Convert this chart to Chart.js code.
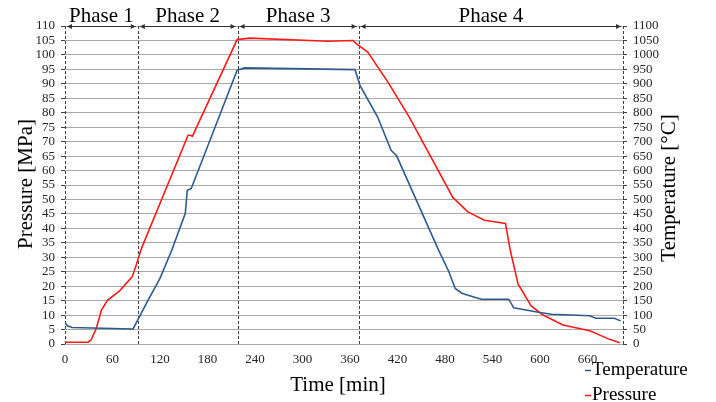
<!DOCTYPE html>
<html>
<head>
<meta charset="utf-8">
<script src="https://cdn.jsdelivr.net/npm/chart.js@4.4.0/dist/chart.umd.min.js"></script>
<style>
  html, body { margin: 0; padding: 0; background: #fff; }
  canvas { display: block; }
</style>
</head>
<body>
<canvas id="myChart" width="716" height="402"></canvas>
<script>
// temperature curve (right axis, °C)
const tempTime = [0, 3, 9, 86, 105, 120, 135, 152, 154.5, 159.5, 193, 217.5, 227, 366.5, 372.5, 395, 412, 419, 472, 485, 493, 502, 526, 560.5, 567, 598, 614.5, 663, 670.5, 694, 702];
const tempValues = [74, 63, 57, 52, 152, 227, 325, 452, 532, 538, 774, 947, 955, 949, 895, 785, 670, 651, 325, 250, 192, 175, 155, 155, 125, 110, 103, 98, 89, 89, 80];

// pressure curve (left axis, MPa)
const pressTime = [0, 29, 33, 39.5, 46, 54, 69, 85, 90, 96.5, 155.5, 158, 161, 217.5, 233.5, 332.5, 364, 368, 382.5, 408, 435, 490, 509, 530, 556.5, 562.5, 572.5, 589, 604, 629, 663, 688, 701];
const pressValues = [0.6, 0.6, 1.4, 5.4, 11.7, 15.2, 18.4, 23.3, 27.3, 33, 72.2, 72.2, 71.9, 105.3, 105.8, 104.7, 105, 103.9, 101, 90.6, 78.5, 50.7, 45.7, 42.8, 41.7, 32.5, 20.7, 13.2, 10, 6.6, 4.6, 1.6, 0.45];

const phaseLabels = ["Phase 1", "Phase 2", "Phase 3", "Phase 4"];
const phaseBounds = [0, 92, 218, 371, 705];

const serif = "'Liberation Serif', 'Times New Roman', serif";
const blue = "#2f5b8c";
const red = "#ff1a1a";

const toPoints = (xs, ys) => xs.map((x, i) => ({ x: x, y: ys[i] }));

// extra drawing: phase lines, arrows, titles, legend
const decor = {
  id: "decor",
  beforeDatasetsDraw(chart) {
    const ctx = chart.ctx;
    const x = chart.scales.x;
    const area = chart.chartArea;
    ctx.save();
    ctx.strokeStyle = "#404040";
    ctx.lineWidth = 1;
    ctx.setLineDash([3, 2]);
    phaseBounds.forEach((b) => {
      const px = Math.round(x.getPixelForValue(b)) + 0.5;
      ctx.beginPath();
      ctx.moveTo(px, area.top);
      ctx.lineTo(px, area.bottom);
      ctx.stroke();
    });
    ctx.restore();
  },
  afterDraw(chart) {
    const ctx = chart.ctx;
    const x = chart.scales.x;
    const area = chart.chartArea;
    ctx.save();

    // arrows + phase names
    const ay = Math.round(area.top) + 0.5;
    ctx.lineWidth = 1;
    for (let i = 0; i < phaseLabels.length; i++) {
      const x1 = x.getPixelForValue(phaseBounds[i]) + 2;
      const x2 = x.getPixelForValue(phaseBounds[i + 1]) - 2;
      ctx.strokeStyle = "#333";
      ctx.fillStyle = "#333";
      ctx.beginPath();
      ctx.moveTo(x1, ay);
      ctx.lineTo(x2, ay);
      ctx.stroke();
      ctx.beginPath();
      ctx.moveTo(x1, ay);
      ctx.lineTo(x1 + 5, ay - 2.5);
      ctx.lineTo(x1 + 5, ay + 2.5);
      ctx.closePath();
      ctx.fill();
      ctx.beginPath();
      ctx.moveTo(x2, ay);
      ctx.lineTo(x2 - 5, ay - 2.5);
      ctx.lineTo(x2 - 5, ay + 2.5);
      ctx.closePath();
      ctx.fill();

      ctx.font = "21px " + serif;
      ctx.fillStyle = "#000";
      ctx.textAlign = "center";
      ctx.textBaseline = "alphabetic";
      ctx.fillText(phaseLabels[i], (x1 + x2) / 2, 22);
    }

    // axis titles
    ctx.fillStyle = "#000";
    ctx.font = "21px " + serif;
    ctx.textAlign = "center";
    ctx.textBaseline = "middle";
    ctx.fillText("Time [min]", 338, 385);

    ctx.save();
    ctx.translate(26, 184);
    ctx.rotate(-Math.PI / 2);
    ctx.fillText("Pressure [MPa]", 0, 0);
    ctx.restore();

    ctx.save();
    ctx.translate(669, 188);
    ctx.rotate(-Math.PI / 2);
    ctx.fillText("Temperature [°C]", 0, 0);
    ctx.restore();

    // legend
    ctx.font = "19px " + serif;
    ctx.textAlign = "left";
    const items = [["Temperature", blue, 370], ["Pressure", red, 395]];
    items.forEach(([label, color, y]) => {
      ctx.strokeStyle = color;
      ctx.lineWidth = 1.5;
      ctx.beginPath();
      ctx.moveTo(585, y + 0.5);
      ctx.lineTo(591, y + 0.5);
      ctx.stroke();
      ctx.fillStyle = "#000";
      ctx.fillText(label, 592, y);
    });

    ctx.restore();
  },
};

const ctx = document.getElementById("myChart").getContext("2d");
new Chart(ctx, {
  type: "line",
  data: {
    datasets: [
      {
        label: "Temperature",
        data: toPoints(tempTime, tempValues),
        yAxisID: "y2",
        borderColor: blue,
        borderWidth: 1.6,
        pointRadius: 0,
        tension: 0,
      },
      {
        label: "Pressure",
        data: toPoints(pressTime, pressValues),
        yAxisID: "y",
        borderColor: red,
        borderWidth: 1.6,
        pointRadius: 0,
        tension: 0,
      },
    ],
  },
  options: {
    responsive: false,
    animation: false,
    layout: { padding: { left: 0, right: 0, top: 26, bottom: 0 } },
    plugins: { legend: { display: false }, tooltip: { enabled: false } },
    scales: {
      x: {
        type: "linear",
        min: 0,
        max: 705,
        afterFit: (s) => { s.height = 58; },
        border: { display: false },
        grid: { display: false },
        ticks: {
          stepSize: 60,
          includeBounds: false,
          autoSkip: false,
          maxRotation: 0,
          padding: 0,
          color: "#262626",
          font: { family: serif, size: 13 },
        },
      },
      y: {
        position: "left",
        min: 0,
        max: 110,
        afterFit: (s) => { s.width = 65; },
        border: { display: false },
        grid: { color: "#a9a9a9", lineWidth: 1, tickLength: 4, tickColor: "#404040" },
        ticks: {
          stepSize: 5,
          autoSkip: false,
          padding: 6,
          color: "#262626",
          font: { family: serif, size: 13 },
        },
      },
      y2: {
        position: "right",
        min: 0,
        max: 1100,
        afterFit: (s) => { s.width = 93; },
        border: { display: false },
        grid: { drawOnChartArea: false, tickLength: 4, tickColor: "#404040" },
        ticks: {
          stepSize: 50,
          autoSkip: false,
          padding: 6,
          color: "#262626",
          font: { family: serif, size: 13 },
          callback: (v) => String(v),
        },
      },
    },
  },
  plugins: [decor],
});
</script>
</body>
</html>
